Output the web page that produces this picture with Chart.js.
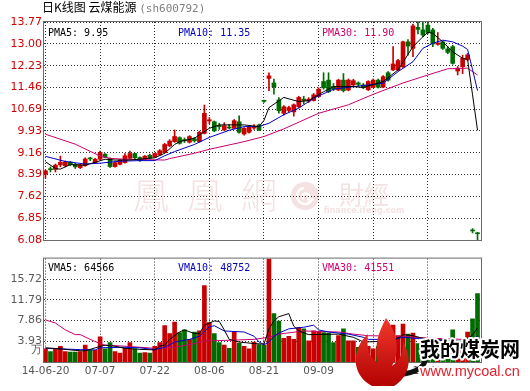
<!DOCTYPE html>
<html>
<head>
<meta charset="utf-8">
<script src="https://cdn.jsdelivr.net/npm/chart.js@4.4.1/dist/chart.umd.min.js"></script>
<style>
  body { margin: 0; background: #fff; width: 530px; height: 391px; position: relative; overflow: hidden; }
  canvas { position: absolute; left: 0; }
  #title { position: absolute; left: 42px; top: 0; font: 12px 'Noto Sans CJK SC'; color: #000; white-space: pre; line-height: 14px; }
  #title span { color: #808080; font: 11px 'DejaVu Sans Mono'; }
</style>
</head>
<body>
<canvas id="priceChart" width="530" height="250" style="top:0"></canvas>
<canvas id="volumeChart" width="530" height="141" style="top:250px"></canvas>
<div id="title">日K线图 云煤能源 <span>(sh600792)</span></div>
<script>
// 横轴刻度 (每11个交易日一格)
const tickIndex = [0, 11, 22, 33, 44, 55, 66, 77];
const tickLabels = ['14-06-20', '07-07', '07-22', '08-06', '08-21', '09-09', '09-24', '10-16'];
const priceTicks = ['6.08', '6.85', '7.62', '8.39', '9.16', '9.93', '10.69', '11.46', '12.23', '13.00', '13.77'];
const volumeTicks = ['万', '3.93', '7.86', '11.79', '15.72'];
const volumeTickValues = [2.17, 3.93, 7.86, 11.79, 15.72];

// 日K线 开/收/高/低
const opens = [8.40, 8.58, 8.57, 8.73, 8.70, 8.83, 8.75, 8.63, 8.70, 8.96,
  8.81, 8.93, 9.11, 8.96, 8.67, 8.75, 8.81, 8.96, 9.13, 8.99,
  8.93, 9.07, 9.00, 9.08, 9.16, 9.40, 9.55, 9.69, 9.62, 9.53,
  9.65, 9.55, 9.84, 10.28, 10.25, 10.12, 9.96, 10.06, 10.02, 10.25,
  9.82, 9.88, 10.03, 10.14, 11.00, 11.78, 11.62, 11.02, 10.55, 10.65,
  10.60, 10.78, 11.05, 10.98, 11.00, 11.14, 11.67, 11.72, 11.50, 11.37,
  11.72, 11.37, 11.55, 11.62, 11.55, 11.38, 11.47, 11.72, 11.47, 11.98,
  12.08, 12.08, 12.19, 13.07, 12.84, 13.58, 13.49, 13.66, 13.49, 12.98,
  13.07, 12.82, 12.90, 12.04, 12.19, 12.45, 6.42, 6.33];
const closes = [8.52, 8.56, 8.72, 8.82, 8.83, 8.74, 8.66, 8.73, 8.94, 8.94,
  8.93, 9.17, 9.00, 8.67, 8.81, 8.90, 9.05, 9.13, 8.98, 8.88,
  9.04, 8.97, 9.13, 9.23, 9.45, 9.57, 9.73, 9.49, 9.58, 9.73,
  9.58, 9.88, 10.55, 10.32, 9.93, 10.08, 10.11, 10.03, 10.29, 9.88,
  10.02, 10.07, 10.06, 9.96, 10.97, 11.87, 11.48, 10.64, 10.78, 10.75,
  10.85, 11.11, 11.00, 11.05, 11.20, 11.40, 11.45, 11.31, 11.40, 11.72,
  11.35, 11.72, 11.70, 11.57, 11.45, 11.67, 11.72, 11.47, 11.84, 11.72,
  12.29, 12.41, 13.07, 12.92, 13.63, 13.51, 13.31, 13.40, 13.00, 13.03,
  12.84, 12.70, 12.31, 12.14, 12.49, 12.61, 6.40, 6.30];
const highs = [8.55, 8.66, 8.76, 9.04, 8.87, 8.85, 8.78, 8.76, 8.98, 9.00,
  8.96, 9.22, 9.13, 8.98, 8.83, 8.92, 9.13, 9.22, 9.15, 9.01,
  9.06, 9.11, 9.15, 9.27, 9.49, 9.62, 9.96, 9.72, 9.68, 9.76,
  9.70, 9.92, 10.84, 10.40, 10.28, 10.20, 10.22, 10.16, 10.33, 10.46,
  10.05, 10.10, 10.15, 10.17, 11.02, 11.98, 11.76, 11.10, 10.82, 10.80,
  10.88, 11.15, 11.15, 11.10, 11.25, 11.45, 11.98, 11.98, 11.60, 11.75,
  11.95, 11.76, 11.75, 11.66, 11.60, 11.70, 11.76, 11.76, 11.88, 12.02,
  12.90, 12.45, 13.10, 13.15, 13.70, 13.76, 13.76, 13.76, 13.55, 13.40,
  13.10, 12.90, 12.95, 12.20, 12.60, 12.66, 6.48, 6.35];
const lows = [8.26, 8.48, 8.48, 8.66, 8.66, 8.70, 8.60, 8.60, 8.68, 8.88,
  8.80, 8.90, 8.98, 8.64, 8.65, 8.73, 8.79, 8.94, 8.95, 8.85,
  8.91, 8.95, 8.98, 9.06, 9.14, 9.37, 9.52, 9.46, 9.52, 9.50,
  9.53, 9.53, 9.82, 10.18, 9.90, 9.98, 9.94, 10.00, 10.00, 9.85,
  9.78, 9.85, 9.98, 9.94, 10.93, 11.35, 11.22, 10.55, 10.48, 10.60,
  10.45, 10.75, 10.88, 10.93, 10.98, 11.12, 11.40, 11.28, 11.35, 11.35,
  11.30, 11.34, 11.50, 11.50, 11.42, 11.35, 11.45, 11.44, 11.45, 11.68,
  12.05, 12.05, 12.15, 12.60, 12.55, 13.35, 13.25, 13.35, 12.90, 12.95,
  12.80, 12.65, 12.28, 11.90, 11.95, 12.40, 6.33, 6.08];

// 成交量 (万手)
const volumes = [2.5, 2.0, 2.5, 3.0, 2.0, 1.9, 1.9, 2.0, 3.2, 2.2,
  2.2, 4.8, 2.5, 3.7, 2.0, 1.7, 2.6, 3.7, 2.5, 1.7,
  1.8, 1.7, 3.0, 3.7, 6.9, 5.4, 7.6, 5.6, 6.1, 4.3,
  5.7, 5.9, 14.5, 7.5, 5.4, 3.7, 3.2, 2.6, 5.7, 3.6,
  3.0, 2.5, 3.8, 3.3, 3.2, 19.6, 9.2, 7.8, 4.5, 4.9,
  4.3, 6.6, 6.3, 4.0, 5.9, 5.7, 5.6, 5.5, 3.7, 5.0,
  6.3, 4.0, 4.0, 2.8, 2.3, 3.0, 2.5, 3.0, 4.0, 3.5,
  7.0, 5.0, 7.2, 5.3, 5.5, 3.5, 3.0, 4.5, 3.5, 2.5,
  2.5, 3.0, 6.1, 2.5, 3.0, 5.7, 8.2, 13.0];

// 均线 [交易日序号, 数值]
const pma5 = [[0, 8.84], [2, 8.60], [3, 8.58], [5, 8.74], [8, 8.72], [10, 8.82], [12, 8.93], [14, 8.90], [17, 8.90],
  [19, 8.93], [22, 8.98], [23, 9.06], [24, 9.14], [26, 9.45], [27, 9.55], [30, 9.67], [33, 10.02], [35, 10.14],
  [40, 10.14], [43, 10.08], [44, 10.30], [45, 10.75], [48, 11.11], [51, 10.96], [53, 11.00], [56, 11.31],
  [58, 11.49], [62, 11.49], [64, 11.46], [68, 11.67], [71, 12.08], [74, 12.90], [76, 13.25], [77, 13.41],
  [78, 13.37], [80, 13.07], [82, 12.72], [84, 12.49], [85, 12.45], [86, 11.20], [87, 9.95]];
const pma10 = [[0, 9.03], [4, 8.85], [8, 8.76], [11, 8.79], [15, 8.86], [19, 8.88], [22, 8.88], [24, 9.05],
  [26, 9.20], [30, 9.45], [33, 9.70], [37, 9.95], [40, 10.08], [43, 10.08], [45, 10.20], [48, 10.50],
  [51, 10.73], [54, 11.08], [58, 11.40], [62, 11.49], [65, 11.55], [68, 11.61], [71, 12.02], [74, 12.37],
  [76, 12.84], [78, 13.02], [80, 13.13], [82, 13.07], [84, 12.92], [85, 12.80], [86, 12.09], [87, 11.35]];
const pma30 = [[0, 9.81], [6, 9.46], [11, 9.04], [13, 8.96], [16, 8.93], [24, 8.90], [25, 8.95], [30, 9.14],
  [33, 9.28], [40, 9.55], [44, 9.73], [48, 10.00], [55, 10.55], [61, 10.85], [66, 11.22], [72, 11.62],
  [77, 11.90], [81, 12.12], [85, 12.14], [87, 11.90]];
const vma5 = [[0, 2.7], [3, 2.5], [6, 2.2], [8, 2.1], [10, 2.7], [12, 3.2], [14, 3.0], [16, 2.6], [19, 2.4],
  [22, 2.3], [23, 3.0], [24, 3.2], [25, 4.3], [27, 5.7], [28, 6.1], [30, 5.4], [31, 5.4], [32, 7.0], [34, 7.8],
  [35, 7.7], [36, 6.1], [37, 4.3], [39, 3.8], [42, 3.5], [44, 3.4], [45, 6.3], [46, 7.8], [47, 8.6], [48, 8.9],
  [49, 9.2], [50, 6.8], [51, 5.9], [53, 5.2], [59, 5.3], [62, 4.7], [64, 3.8], [70, 4.0], [72, 5.2], [74, 5.0],
  [76, 4.5], [84, 3.9], [86, 5.1], [87, 6.46]];
const vma10 = [[0, 2.6], [3, 2.5], [7, 2.35], [10, 2.3], [11, 2.7], [16, 2.8], [19, 2.7], [22, 2.35], [24, 2.8],
  [26, 3.8], [29, 4.3], [31, 4.9], [33, 6.7], [34, 6.9], [36, 5.9], [40, 5.7], [42, 4.9], [43, 3.8], [44, 3.3],
  [45, 3.8], [46, 4.9], [47, 5.5], [49, 6.3], [52, 6.6], [54, 7.0], [55, 6.1], [57, 5.7], [61, 5.3], [64, 4.7],
  [65, 4.3], [70, 4.3], [72, 4.7], [78, 4.2], [84, 3.7], [86, 4.3], [87, 4.88]];
const vma30 = [[0, 8.0], [2, 7.4], [4, 6.1], [6, 5.2], [7, 5.2], [9, 4.3], [11, 3.5], [12, 3.2], [16, 3.0],
  [19, 2.8], [22, 2.6], [26, 2.8], [30, 3.5], [32, 4.0], [36, 4.1], [42, 4.3], [45, 4.7], [47, 5.3], [52, 5.9],
  [55, 5.8], [59, 5.7], [62, 5.3], [65, 5.0], [71, 4.9], [78, 4.5], [84, 4.3], [87, 4.16]];

const priceLegend = [['PMA5: 9.95', '#000000'], ['PMA10: 11.35', '#0000b4'], ['PMA30: 11.90', '#c8006e']];
const volumeLegend = [['VMA5: 64566', '#000000'], ['VMA10: 48752', '#0000b4'], ['VMA30: 41551', '#c8006e']];

const RED = '#c80000';
const GREEN = '#006c00';
const MA_COLORS = ['#000000', '#0000c8', '#c8006e'];
const days = opens.map((_, i) => i);
const candleColor = days.map(i => closes[i] >= opens[i] ? RED : GREEN);
const legendX = [48, 178, 322];

const toPoints = arr => arr.map(([x, y]) => ({ x, y }));
const maLine = (arr, color) => ({
  type: 'line', data: toPoints(arr), borderColor: color, borderWidth: 1,
  pointRadius: 0, tension: 0, order: 0
});

// 公共横轴设置
const xAxis = (showLabels) => ({
  type: 'linear', min: -0.3, max: 87.7, offset: false,
  afterBuildTicks: s => { s.ticks = tickIndex.map(v => ({ value: v })); },
  grid: { color: '#333', lineWidth: 1, drawTicks: false, offset: false, borderDash: [1, 2] },
  border: { display: false, dash: [1, 2] },
  ticks: {
    display: showLabels, autoSkip: false, maxRotation: 0, padding: 3, color: '#555',
    font: { family: 'DejaVu Sans', size: 10.5 },
    callback: (v, i) => tickLabels[i]
  },
  afterFit: s => { s.height = showLabels ? 29 : 0; }
});

function frameAndLegend(legend, baseline) {
  return {
    id: 'frameAndLegend',
    afterDraw(chart) {
      const { ctx, chartArea: a } = chart;
      ctx.save();
      ctx.strokeStyle = '#6a6a6a';
      ctx.lineWidth = 1;
      ctx.strokeRect(a.left - 0.5, a.top - 0.5, a.right - a.left + 1, a.bottom - a.top + 1);
      ctx.font = '10px "DejaVu Sans Mono"';
      ctx.textBaseline = 'alphabetic';
      legend.forEach(([text, color], k) => {
        ctx.fillStyle = color;
        ctx.fillText(text, legendX[k], baseline);
      });
      ctx.restore();
    }
  };
}

// 凤凰网财经水印
const watermark = {
  id: 'watermark',
  beforeDraw(chart) {
    const ctx = chart.ctx;
    ctx.save();
    ctx.fillStyle = '#f4e2e2';
    ctx.textAlign = 'center';
    ctx.textBaseline = 'middle';
    ctx.font = '300 36px "Noto Sans CJK TC"';
    ['鳳', '凰', '網'].forEach((c, k) => ctx.fillText(c, 151 + k * 54, 195));
    ctx.font = '25px "Noto Sans CJK TC"';
    ctx.fillText('財經', 364, 194);
    ctx.font = 'bold 8px "DejaVu Sans"';
    ctx.fillText('finance.ifeng.com', 364, 211);
    ctx.beginPath();
    ctx.arc(305, 196, 14, 0, Math.PI * 2);
    ctx.fill();
    ctx.strokeStyle = '#fff';
    ctx.lineWidth = 2.5;
    ctx.beginPath();
    ctx.arc(305, 196, 8, 0.3, 4.6);
    ctx.stroke();
    ctx.beginPath();
    ctx.arc(306, 197, 3.5, 2.5, 7.5);
    ctx.stroke();
    ctx.restore();
  }
};

// 我的煤炭网标志
const coalLogo = {
  id: 'coalLogo',
  afterDraw(chart) {
    const ctx = chart.ctx;
    ctx.save();
    ctx.strokeStyle = '#111';
    ctx.lineWidth = 5;
    ctx.beginPath();
    ctx.ellipse(392, 110, 33, 15, 0, 1.12 * Math.PI, -0.08 * Math.PI, true);
    ctx.stroke();
    const g = ctx.createLinearGradient(0, 68, 0, 138);
    g.addColorStop(0, '#f23a2e');
    g.addColorStop(1, '#b00000');
    ctx.fillStyle = g;
    ctx.beginPath();
    ctx.moveTo(372, 136);
    ctx.bezierCurveTo(350, 124, 352, 98, 368, 84);
    ctx.bezierCurveTo(366, 100, 370, 108, 377, 112);
    ctx.bezierCurveTo(374, 92, 380, 80, 386, 68);
    ctx.bezierCurveTo(398, 84, 400, 102, 392, 116);
    ctx.bezierCurveTo(400, 110, 404, 102, 403, 92);
    ctx.bezierCurveTo(414, 110, 408, 128, 394, 136);
    ctx.closePath();
    ctx.fill();
    ctx.lineJoin = 'round';
    ctx.font = 'bold 20px "Noto Sans CJK SC"';
    ctx.strokeStyle = '#fff';
    ctx.lineWidth = 4;
    ctx.strokeText('我的煤炭网', 420, 107);
    ctx.fillStyle = '#000';
    ctx.fillText('我的煤炭网', 420, 107);
    ctx.font = '14.5px "Liberation Sans"';
    ctx.strokeText('www.mycoal.cn', 420, 126);
    ctx.fillStyle = '#e4202a';
    ctx.fillText('www.mycoal.cn', 420, 126);
    ctx.restore();
  }
};

new Chart(document.getElementById('priceChart'), {
  type: 'bar',
  data: {
    datasets: [
      maLine(pma5, MA_COLORS[0]),
      maLine(pma10, MA_COLORS[1]),
      maLine(pma30, MA_COLORS[2]),
      {
        data: days.map(i => ({ x: i, y: [opens[i], closes[i]] })),
        backgroundColor: candleColor, barThickness: 4, minBarLength: 1, grouped: false, order: 1
      },
      {
        data: days.map(i => ({ x: i, y: [lows[i], highs[i]] })),
        backgroundColor: candleColor, barThickness: 1, grouped: false, order: 2
      }
    ]
  },
  options: {
    responsive: false, animation: false, devicePixelRatio: 1,
    layout: { padding: { top: 22, right: 49, bottom: 10, left: 0 } },
    plugins: { legend: { display: false }, tooltip: { enabled: false } },
    scales: {
      x: xAxis(false),
      y: {
        min: 6.08, max: 13.77,
        afterBuildTicks: s => { s.ticks = priceTicks.map(t => ({ value: parseFloat(t) })); },
        afterFit: s => { s.width = 44; },
        grid: { color: '#333', drawTicks: false, borderDash: [1, 2] },
        border: { display: false, dash: [1, 2] },
        ticks: {
          autoSkip: false, padding: 2, color: '#d00000',
          font: { family: 'DejaVu Sans', size: 11 },
          callback: (v, i) => priceTicks[i]
        }
      }
    }
  },
  plugins: [watermark, frameAndLegend(priceLegend, 36)]
});

new Chart(document.getElementById('volumeChart'), {
  type: 'bar',
  data: {
    datasets: [
      maLine(vma5, MA_COLORS[0]),
      maLine(vma10, MA_COLORS[1]),
      maLine(vma30, MA_COLORS[2]),
      {
        data: days.map(i => ({ x: i, y: volumes[i] })),
        backgroundColor: candleColor, barThickness: 4, grouped: false, order: 1
      }
    ]
  },
  options: {
    responsive: false, animation: false, devicePixelRatio: 1,
    layout: { padding: { top: 7, right: 49, bottom: 0, left: 0 } },
    plugins: { legend: { display: false }, tooltip: { enabled: false } },
    scales: {
      x: xAxis(true),
      y: {
        min: 0, max: 19.65,
        afterBuildTicks: s => { s.ticks = volumeTickValues.map(v => ({ value: v })); },
        afterFit: s => { s.width = 44; },
        grid: {
          color: c => c.index === 0 ? 'rgba(0,0,0,0)' : '#333',
          drawTicks: false, borderDash: [1, 2]
        },
        border: { display: false, dash: [1, 2] },
        ticks: {
          autoSkip: false, padding: 2, color: '#5a5a5a',
          font: { family: 'DejaVu Sans', size: 11 },
          callback: (v, i) => volumeTicks[i]
        }
      }
    }
  },
  plugins: [frameAndLegend(volumeLegend, 21), coalLogo]
});
</script>
</body>
</html>
